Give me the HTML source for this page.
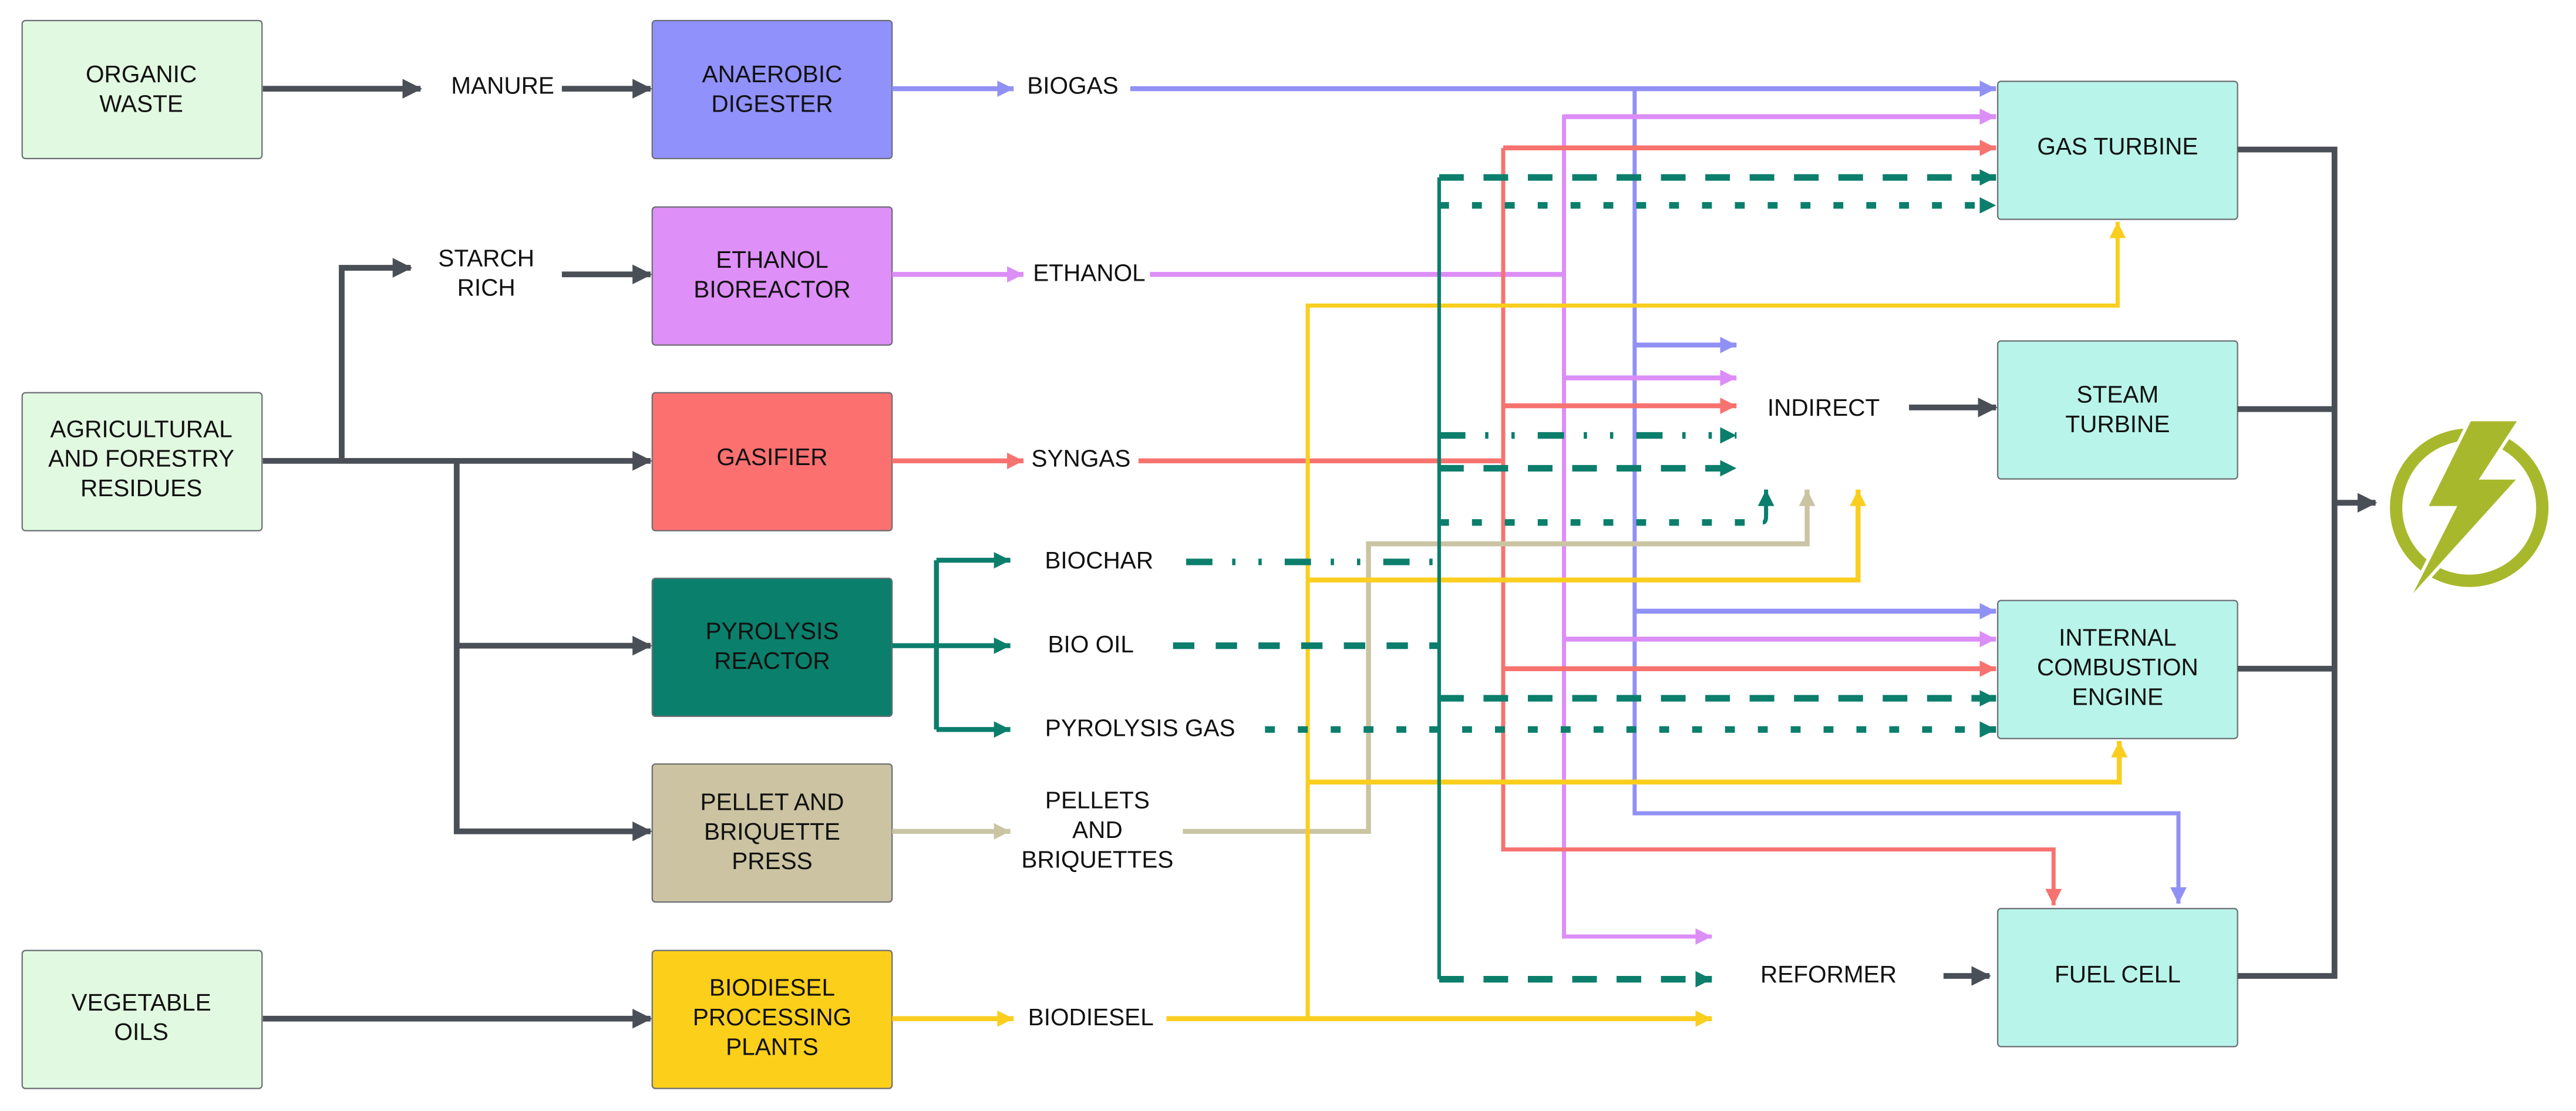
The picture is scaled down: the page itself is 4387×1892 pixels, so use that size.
<!DOCTYPE html>
<html><head><meta charset="utf-8"><style>
html,body{margin:0;padding:0;background:#fff;}
svg{display:block;}
text{font-family:"Liberation Sans",Arial,sans-serif;font-size:14.5px;fill:#111;text-anchor:middle;dominant-baseline:central;}
</style></head><body>
<svg width="4387" height="1892" viewBox="0 0 1568 676.2" preserveAspectRatio="none" xmlns="http://www.w3.org/2000/svg">
<defs>
<marker id="ag" markerUnits="userSpaceOnUse" markerWidth="12" markerHeight="12" refX="11" refY="6" orient="auto"><path d="M0,0 L12,6 L0,12 z" fill="#4a4f57"/></marker>
<marker id="ab" markerUnits="userSpaceOnUse" markerWidth="10" markerHeight="10" refX="10" refY="5" orient="auto"><path d="M0,0 L10,5 L0,10 z" fill="#9191f5"/></marker>
<marker id="ae" markerUnits="userSpaceOnUse" markerWidth="10" markerHeight="10" refX="10" refY="5" orient="auto"><path d="M0,0 L10,5 L0,10 z" fill="#dc8ef7"/></marker>
<marker id="ar" markerUnits="userSpaceOnUse" markerWidth="10" markerHeight="10" refX="10" refY="5" orient="auto"><path d="M0,0 L10,5 L0,10 z" fill="#f77370"/></marker>
<marker id="at" markerUnits="userSpaceOnUse" markerWidth="10" markerHeight="10" refX="10" refY="5" orient="auto"><path d="M0,0 L10,5 L0,10 z" fill="#0b7e6c"/></marker>
<marker id="an" markerUnits="userSpaceOnUse" markerWidth="10" markerHeight="10" refX="10" refY="5" orient="auto"><path d="M0,0 L10,5 L0,10 z" fill="#cbc4a3"/></marker>
<marker id="ay" markerUnits="userSpaceOnUse" markerWidth="10" markerHeight="10" refX="10" refY="5" orient="auto"><path d="M0,0 L10,5 L0,10 z" fill="#f9ce1e"/></marker>
</defs>

<!-- boxes -->
<g stroke="#6b6f75" stroke-width="0.8">
<rect x="13.5" y="12.5" width="146" height="84" rx="2" fill="#e1f9e0"/>
<rect x="13.5" y="239" width="146" height="84" rx="2" fill="#e1f9e0"/>
<rect x="13.5" y="578.5" width="146" height="84" rx="2" fill="#e1f9e0"/>
<rect x="397" y="12.5" width="146" height="84" rx="2" fill="#9191fc"/>
<rect x="397" y="126" width="146" height="84" rx="2" fill="#de8ff8"/>
<rect x="397" y="239" width="146" height="84" rx="2" fill="#fc7070"/>
<rect x="397" y="352" width="146" height="84" rx="2" fill="#0a7f6c"/>
<rect x="397" y="465" width="146" height="84" rx="2" fill="#cbc3a1"/>
<rect x="397" y="578.5" width="146" height="84" rx="2" fill="#fccf1b"/>
<rect x="1216" y="49.5" width="146" height="84" rx="2" fill="#b8f4ea"/>
<rect x="1216" y="207.5" width="146" height="84" rx="2" fill="#b8f4ea"/>
<rect x="1216" y="365.5" width="146" height="84" rx="2" fill="#b8f4ea"/>
<rect x="1216" y="553" width="146" height="84" rx="2" fill="#b8f4ea"/>
</g>

<!-- gray connectors -->
<g stroke="#4a4f57" stroke-width="3.5" fill="none">
<path d="M160,54 H256" marker-end="url(#ag)"/>
<path d="M342,54 H396" marker-end="url(#ag)"/>
<path d="M160,280.5 H396" marker-end="url(#ag)"/>
<path d="M208,280.5 V163 H250" marker-end="url(#ag)"/>
<path d="M342,167 H396" marker-end="url(#ag)"/>
<path d="M278,280.5 V506 H396" marker-end="url(#ag)"/>
<path d="M278,393 H396" marker-end="url(#ag)"/>
<path d="M160,620 H396" marker-end="url(#ag)"/>
<path d="M1162,248 H1215" marker-end="url(#ag)"/>
<path d="M1183,594 H1211" marker-end="url(#ag)"/>
<path d="M1362,91 H1421 V594 H1362"/>
<path d="M1362,249 H1421"/>
<path d="M1362,407 H1421"/>
<path d="M1421,306 H1446" marker-end="url(#ag)"/>
</g>

<!-- biogas -->
<g stroke="#9191f5" stroke-width="3" fill="none">
<path d="M543,54 H617" marker-end="url(#ab)"/>
<path d="M688,54 H1215" marker-end="url(#ab)"/>
<path d="M995,54 V495 H1326 V550" stroke-width="2.5" marker-end="url(#ab)"/>
<path d="M995,210 H1057" marker-end="url(#ab)"/>
<path d="M995,372 H1215" marker-end="url(#ab)"/>
</g>
<!-- ethanol -->
<g stroke="#dc8ef7" stroke-width="3" fill="none">
<path d="M543,167 H623" marker-end="url(#ae)"/>
<path d="M700,167 H952"/>
<path d="M1215,71 H952 V570 H1042" stroke-width="2.5" marker-end="url(#ae)"/>
<path d="M952,71 H1215" marker-end="url(#ae)"/>
<path d="M952,230 H1057" marker-end="url(#ae)"/>
<path d="M952,389 H1215" marker-end="url(#ae)"/>
</g>
<!-- syngas -->
<g stroke="#f77370" stroke-width="3" fill="none">
<path d="M543,280.5 H623" marker-end="url(#ar)"/>
<path d="M693,280.5 H915"/>
<path d="M915,90 V517 H1250 V551" stroke-width="2.5" marker-end="url(#ar)"/>
<path d="M915,90 H1215" marker-end="url(#ar)"/>
<path d="M915,247 H1057" marker-end="url(#ar)"/>
<path d="M915,407 H1215" marker-end="url(#ar)"/>
</g>
<!-- pellets -->
<g stroke="#cbc4a3" stroke-width="3" fill="none">
<path d="M543,506 H615" marker-end="url(#an)"/>
<path d="M720,506 H833 V331 H1100 V298" marker-end="url(#an)"/>
</g>
<!-- biodiesel -->
<g stroke="#f9ce1e" stroke-width="3" fill="none">
<path d="M543,620 H617" marker-end="url(#ay)"/>
<path d="M710,620 H1042" marker-end="url(#ay)"/>
<path d="M796,620 V186 H1289 V135" stroke-width="2.5" marker-end="url(#ay)"/>
<path d="M796,353 H1131 V298" marker-end="url(#ay)"/>
<path d="M796,476 H1290 V451" marker-end="url(#ay)"/>
</g>
<!-- pyrolysis -->
<g stroke="#0b7e6c" stroke-width="3" fill="none">
<path d="M543,393 H615" marker-end="url(#at)"/>
<path d="M570,341 V444"/>
<path d="M570,341 H615" marker-end="url(#at)"/>
<path d="M570,444 H615" marker-end="url(#at)"/>
<path d="M876,108 V596" stroke-width="2.2"/>
<path d="M722,342 H876" stroke-width="4" stroke-dasharray="16 12 2 14 2 14"/>
<path d="M714,393 H876" stroke-width="4" stroke-dasharray="13 13"/>
<path d="M770,444 H1215" stroke-width="4" stroke-dasharray="6 14" marker-end="url(#at)"/>
<path d="M876,108 H1215" stroke-width="4" stroke-dasharray="15 12" marker-end="url(#at)"/>
<path d="M876,125 H1215" stroke-width="4" stroke-dasharray="6 14" marker-end="url(#at)"/>
<path d="M876,265 H1057" stroke-width="4" stroke-dasharray="16 12 2 14 2 14" marker-end="url(#at)"/>
<path d="M876,285 H1057" stroke-width="4" stroke-dasharray="15 12" marker-end="url(#at)"/>
<path d="M876,318 H1073" stroke-width="4" stroke-dasharray="6 14"/>
<path d="M1073,318 Q1075,318 1075,314 V298" stroke-width="2.5" marker-end="url(#at)"/>
<path d="M876,425 H1215" stroke-width="4" stroke-dasharray="15 12" marker-end="url(#at)"/>
<path d="M876,596 H1042" stroke-width="4" stroke-dasharray="15 12" marker-end="url(#at)"/>
</g>

<!-- power icon -->
<circle cx="1503" cy="309" r="44.5" fill="none" stroke="#a8b82c" stroke-width="7.5"/>
<polygon points="1504,256.4 1532,256.4 1508.8,291.9 1531.4,291.9 1468.9,361 1495.7,308 1478.4,308" fill="#a8b82c" stroke="#fff" stroke-width="4" stroke-linejoin="miter"/>
<polygon points="1504,256.4 1532,256.4 1508.8,291.9 1531.4,291.9 1468.9,361 1495.7,308 1478.4,308" fill="#a8b82c"/>

<!-- labels -->
<text x="86" y="45">ORGANIC</text><text x="86" y="63">WASTE</text>
<text x="306" y="52">MANURE</text>
<text x="470" y="45">ANAEROBIC</text><text x="470" y="63">DIGESTER</text>
<text x="653" y="52">BIOGAS</text>
<text x="296" y="157">STARCH</text><text x="296" y="175">RICH</text>
<text x="470" y="158">ETHANOL</text><text x="470" y="176">BIOREACTOR</text>
<text x="663" y="166">ETHANOL</text>
<text x="86" y="261">AGRICULTURAL</text><text x="86" y="279">AND FORESTRY</text><text x="86" y="297">RESIDUES</text>
<text x="470" y="278">GASIFIER</text>
<text x="658" y="279">SYNGAS</text>
<text x="470" y="384">PYROLYSIS</text><text x="470" y="402">REACTOR</text>
<text x="669" y="341">BIOCHAR</text>
<text x="664" y="392">BIO OIL</text>
<text x="694" y="443">PYROLYSIS GAS</text>
<text x="470" y="488">PELLET AND</text><text x="470" y="506">BRIQUETTE</text><text x="470" y="524">PRESS</text>
<text x="668" y="487">PELLETS</text><text x="668" y="505">AND</text><text x="668" y="523">BRIQUETTES</text>
<text x="86" y="610">VEGETABLE</text><text x="86" y="628">OILS</text>
<text x="470" y="601">BIODIESEL</text><text x="470" y="619">PROCESSING</text><text x="470" y="637">PLANTS</text>
<text x="664" y="619">BIODIESEL</text>
<text x="1289" y="89">GAS TURBINE</text>
<text x="1110" y="248">INDIRECT</text>
<text x="1289" y="240">STEAM</text><text x="1289" y="258">TURBINE</text>
<text x="1289" y="388">INTERNAL</text><text x="1289" y="406">COMBUSTION</text><text x="1289" y="424">ENGINE</text>
<text x="1113" y="593">REFORMER</text>
<text x="1289" y="593">FUEL CELL</text>
</svg>
</body></html>
